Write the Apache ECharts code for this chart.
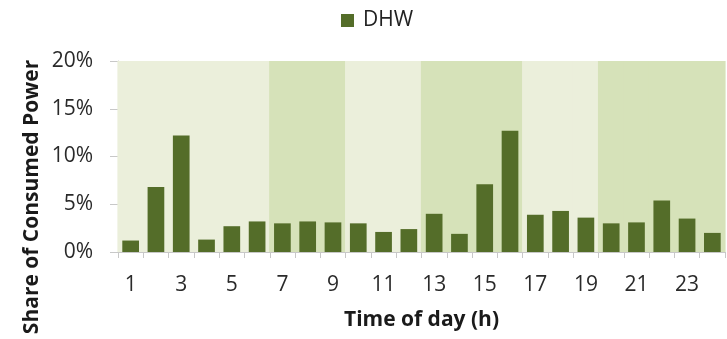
<!DOCTYPE html>
<html><head><meta charset="utf-8">
<script src="https://cdn.jsdelivr.net/npm/echarts@6/dist/echarts.min.js"></script>
<style>html,body{margin:0;padding:0;background:#fff}#c{width:727px;height:339px}</style>
</head><body><div id="c"></div>
<script>
const hours = ['1','2','3','4','5','6','7','8','9','10','11','12','13','14','15','16','17','18','19','20','21','22','23','24'];
const dhw = [1.2, 6.8, 12.2, 1.3, 2.7, 3.2, 3.0, 3.2, 3.1, 3.0, 2.1, 2.4, 4.0, 1.9, 7.1, 12.7, 3.9, 4.3, 3.6, 3.0, 3.1, 5.4, 3.5, 2.0];
// background zone per hour: 0 = light, 1 = darker
const zones = [0,0,0,0,0,0,1,1,1,0,0,0,1,1,1,1,0,0,0,1,1,1,1,1];
const yTicks = [0, 5, 10, 15, 20];

const FONT = 'Open Sans';
const bandColors = ['#ebefdb', '#d6e2b9'];
const yMax = yTicks[yTicks.length-1];
const chart = echarts.init(document.getElementById('c'), null, {renderer: 'canvas'});
chart.setOption({
  animation: false,
  textStyle: {fontFamily: FONT},
  legend: {
    data: ['DHW'], top: 5, left: 336, itemWidth: 13, itemHeight: 13, itemGap: 8,
    icon: 'rect',
    textStyle: {fontFamily: FONT, fontSize: 21, color: '#222', padding: [0, 0, 0, 4]}
  },
  grid: {left: 118, right: 2, top: 61, bottom: 87, containLabel: false},
  xAxis: {
    type: 'category', data: hours,
    name: 'Time of day (h)', nameLocation: 'middle', nameGap: 58,
    nameTextStyle: {fontFamily: FONT, fontSize: 21, fontWeight: 'bold', color: '#1a1a1a', verticalAlign: 'top'},
    axisLine: {show: true, lineStyle: {color: '#c8c8c8'}},
    axisTick: {show: true, interval: 0, length: 6, lineStyle: {color: '#c8c8c8'}},
    axisLabel: {interval: 1, fontFamily: FONT, fontSize: 21, color: '#2a2a2a', margin: 23}
  },
  yAxis: {
    type: 'value', min: yTicks[0], max: yMax, interval: 5,
    axisLine: {show: true, lineStyle: {color: '#c8c8c8'}},
    axisTick: {show: true, length: 8, lineStyle: {color: '#c8c8c8'}},
    splitLine: {show: false},
    axisLabel: {formatter: '{value}%', fontFamily: FONT, fontSize: 21, color: '#2a2a2a', margin: 25}
  },
  graphic: [{
    type: 'text', x: 32, y: 197, rotation: Math.PI/2,
    style: {text: 'Share of Consumed Power', font: 'bold 21px "Open Sans"', fill: '#1a1a1a', textAlign: 'center', textVerticalAlign: 'middle'}
  }],
  series: [{
    name: 'bands', type: 'custom', silent: true, z: 1,
    data: zones.map((z, i) => [i, yMax, z]),
    renderItem: function (params, api) {
      const top = api.coord([api.value(0), api.value(1)]);
      const bottom = api.coord([api.value(0), 0]);
      const w = api.size([1, 0])[0];
      const c = bandColors[api.value(2)];
      return {
        type: 'rect',
        shape: {x: top[0] - w / 2 - 0.6, y: top[1], width: w + 1.2, height: bottom[1] - top[1]},
        style: {fill: c}
      };
    }
  }, {
    name: 'DHW', type: 'bar', barWidth: '66%', z: 3,
    itemStyle: {color: '#546d29'},
    data: dhw
  }]
});
</script></body></html>
